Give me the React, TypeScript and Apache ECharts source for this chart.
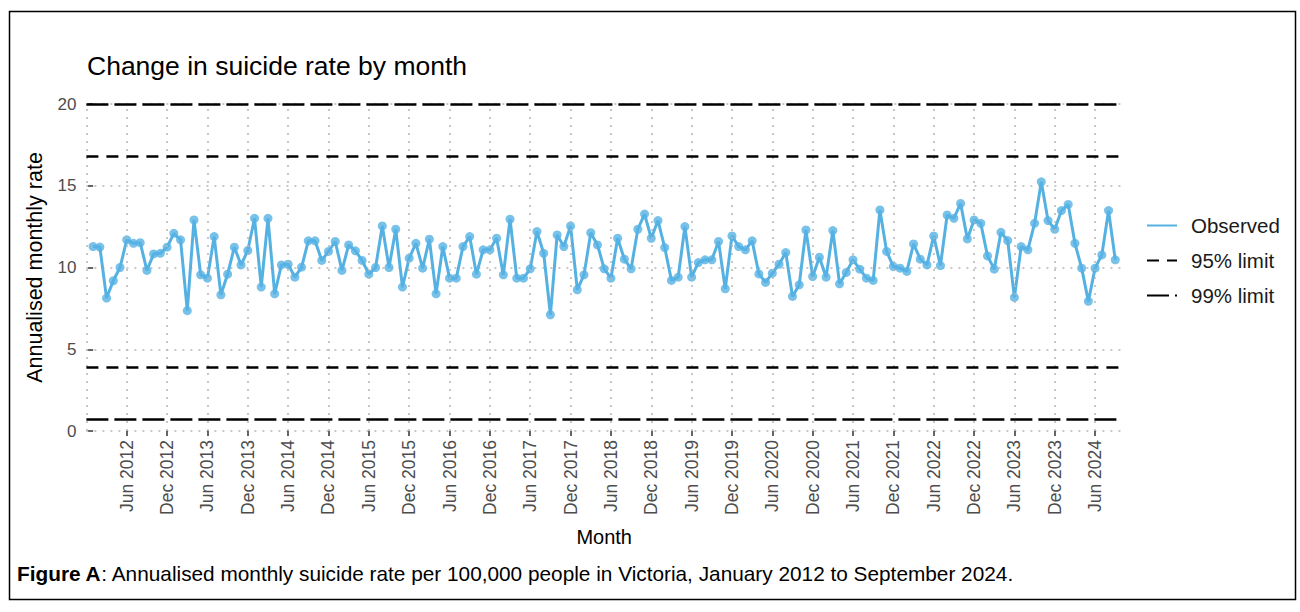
import React, { useEffect, useRef } from "react";
import * as echarts from "echarts";

// Monthly annualised suicide rate, Jan 2012 – Sep 2024
const START_YEAR = 2012;
const MONTH_NAMES = ["Jan", "Feb", "Mar", "Apr", "May", "Jun", "Jul", "Aug", "Sep", "Oct", "Nov", "Dec"];

const rate2012 = [11.28, 11.25, 8.13, 9.19, 10.0, 11.69, 11.48, 11.52, 9.82, 10.83, 10.87, 11.24];
const rate2013 = [12.09, 11.69, 7.36, 12.91, 9.55, 9.35, 11.89, 8.33, 9.59, 11.24, 10.16, 11.04];
const rate2014 = [13.01, 8.8, 13.01, 8.39, 10.16, 10.2, 9.41, 10.02, 11.63, 11.63, 10.43, 10.98];
const rate2015 = [11.59, 9.82, 11.38, 11.02, 10.43, 9.59, 10.0, 12.54, 10.0, 12.34, 8.8, 10.57];
const rate2016 = [11.48, 9.96, 11.73, 8.39, 11.28, 9.35, 9.35, 11.28, 11.89, 9.59, 11.08, 11.08];
const rate2017 = [11.79, 9.55, 12.95, 9.35, 9.35, 9.92, 12.2, 10.87, 7.11, 11.99, 11.28, 12.54];
const rate2018 = [8.64, 9.55, 12.13, 11.38, 9.92, 9.35, 11.79, 10.51, 9.92, 12.34, 13.27, 11.79];
const rate2019 = [12.87, 11.22, 9.21, 9.41, 12.5, 9.41, 10.3, 10.47, 10.47, 11.59, 8.7, 11.93];
const rate2020 = [11.28, 11.08, 11.63, 9.61, 9.09, 9.65, 10.2, 10.91, 8.23, 8.94, 12.3, 9.45];
const rate2021 = [10.63, 9.41, 12.26, 9.0, 9.7, 10.47, 9.9, 9.35, 9.21, 13.52, 10.98, 10.06];
const rate2022 = [9.96, 9.76, 11.44, 10.51, 10.16, 11.93, 10.12, 13.21, 13.01, 13.92, 11.75, 12.91];
const rate2023 = [12.7, 10.71, 9.9, 12.15, 11.65, 8.17, 11.28, 11.08, 12.7, 15.24, 12.87, 12.34];
const rate2024 = [13.48, 13.86, 11.48, 9.96, 7.93, 9.96, 10.77, 13.48, 10.47];

const observed = [
  ...rate2012, ...rate2013, ...rate2014, ...rate2015, ...rate2016, ...rate2017, ...rate2018,
  ...rate2019, ...rate2020, ...rate2021, ...rate2022, ...rate2023, ...rate2024,
];

// Control limits
const limit95 = [16.8, 3.9];
const limit99 = [20.0, 0.7];

const yTicks = [0, 5, 10, 15, 20];
// month indexes (0 = Jan 2012) of labelled ticks: every Jun and Dec
const labelMonths = [5, 11, 17, 23, 29, 35, 41, 47, 53, 59, 65, 71, 77, 83, 89, 95, 101, 107, 113, 119, 125, 131, 137, 143, 149];
// vertical grid lines (includes Dec 2011 at the left edge)
const gridMonths = [-1, ...labelMonths];

const FONT = "'Liberation Sans', Arial, Helvetica, sans-serif";
const BLUE = "#56B1E3";
const GRID = { color: "#b5b5b5", width: 1.5, type: [2, 6] as number[] };

function monthLabel(i: number): string {
  const y = START_YEAR + Math.floor(i / 12);
  const m = ((i % 12) + 12) % 12;
  return `${MONTH_NAMES[m]} ${y}`;
}

export default function App() {
  const ref = useRef<HTMLDivElement>(null);

  useEffect(() => {
    document.body.style.margin = "0";
    if (!ref.current) return;
    const chart = echarts.init(ref.current, undefined, { renderer: "svg" });

    const pts = observed.map((v, i) => [i, v]);

    const option: any = {
      animation: false,
      backgroundColor: "#fff",
      textStyle: { fontFamily: FONT },
      title: {
        text: "Change in suicide rate by month",
        left: 82,
        top: 47,
        textStyle: { fontFamily: FONT, fontSize: 26.5, fontWeight: "normal", color: "#000" },
      },
      grid: { left: 86.4, right: 178, top: 104, height: 327, containLabel: false },
      legend: {
        orient: "vertical",
        left: 1141,
        top: 210,
        itemWidth: 30,
        itemHeight: 14,
        itemGap: 14,
        data: ["Observed", "95% limit", "99% limit"],
        itemStyle: { opacity: 0 },
        textStyle: { fontFamily: FONT, fontSize: 20.5, color: "#1a1a1a", padding: [0, 0, 0, 9] },
      },
      xAxis: {
        type: "value",
        min: -1,
        max: 153,
        name: "Month",
        nameLocation: "middle",
        nameGap: 96,
        nameTextStyle: { fontFamily: FONT, fontSize: 20, color: "#000" },
        axisLine: { show: false },
        axisTick: { show: true, length: 5, customValues: labelMonths, lineStyle: { color: "#333", width: 1.5 } },
        axisLabel: {
          rotate: 90,
          margin: 9,
          fontFamily: FONT,
          fontSize: 17.5,
          color: "#4d4d4d",
          customValues: labelMonths,
          formatter: (v: number) => monthLabel(v),
        },
        splitLine: { show: false },
      },
      yAxis: {
        type: "value",
        min: yTicks[0],
        max: yTicks[yTicks.length - 1],
        interval: 5,
        name: "Annualised monthly rate",
        nameLocation: "middle",
        nameGap: 40,
        nameTextStyle: { fontFamily: FONT, fontSize: 21.5, color: "#000" },
        axisLine: { show: false },
        axisTick: { show: true, length: 5, lineStyle: { color: "#333", width: 1.5 } },
        axisLabel: { margin: 10, fontFamily: FONT, fontSize: 17, color: "#4d4d4d" },
        splitLine: { show: true, lineStyle: GRID },
      },
      series: [
        {
          name: "grid",
          type: "line",
          data: [],
          symbol: "none",
          z: 0,
          markLine: {
            silent: true,
            symbol: ["none", "none"],
            label: { show: false },
            lineStyle: GRID,
            data: gridMonths.map((m) => ({ xAxis: m })),
          },
        },
        {
          name: "95% limit",
          type: "line",
          data: [],
          symbol: "none",
          lineStyle: { color: "#000", width: 2.5, type: [12, 8] },
          itemStyle: { color: "#000" },
          markLine: {
            silent: true,
            symbol: ["none", "none"],
            label: { show: false },
            lineStyle: { color: "#000", width: 2.5, type: [12, 8] },
            data: limit95.map((v) => ({ yAxis: v })),
          },
        },
        {
          name: "99% limit",
          type: "line",
          data: [],
          symbol: "none",
          lineStyle: { color: "#000", width: 2.5, type: [22, 6] },
          itemStyle: { color: "#000" },
          markLine: {
            silent: true,
            symbol: ["none", "none"],
            label: { show: false },
            lineStyle: { color: "#000", width: 2.5, type: [22, 6] },
            data: limit99.map((v) => ({ yAxis: v })),
          },
        },
        {
          name: "Observed",
          type: "line",
          data: pts,
          symbol: "none",
          lineStyle: { color: BLUE, width: 3 },
          itemStyle: { color: BLUE },
          z: 3,
        },
        {
          name: "Observed points",
          type: "scatter",
          data: pts,
          symbol: "circle",
          symbolSize: 9,
          itemStyle: { color: BLUE },
          z: 4,
        },
      ],
      graphic: [
        {
          type: "rect",
          left: 7,
          top: 9,
          shape: { width: 1286, height: 588 },
          style: { fill: "none", stroke: "#000", lineWidth: 1.5 },
          silent: true,
        },
        {
          type: "text",
          left: 17,
          top: 563,
          style: {
            text: "{b|Figure A}: Annualised monthly suicide rate per 100,000 people in Victoria, January 2012 to September 2024.",
            fontFamily: FONT,
            fontSize: 20.8,
            fill: "#000",
            rich: { b: { fontFamily: FONT, fontSize: 20.8, fontWeight: "bold", fill: "#000" } },
          },
        },
      ],
    };

    chart.setOption(option);
    return () => chart.dispose();
  }, []);

  return <div ref={ref} style={{ width: 1300, height: 612 }} />;
}
